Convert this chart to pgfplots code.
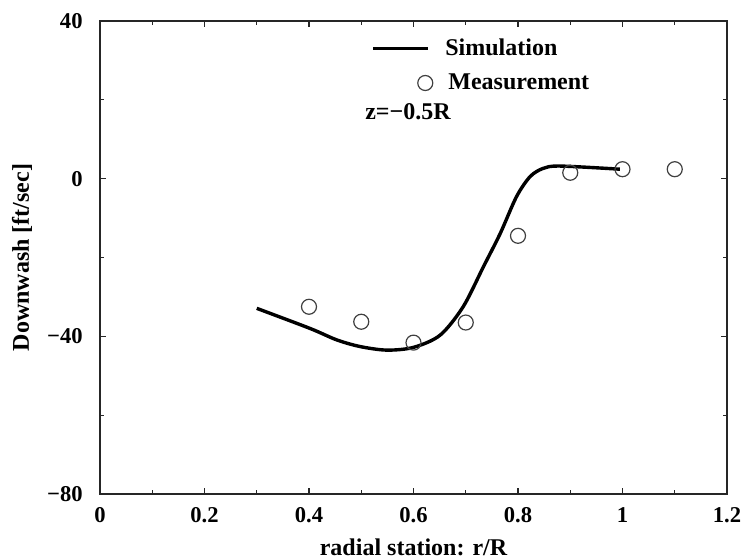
\documentclass[border=0pt]{standalone}
\usepackage{fontspec}
\setmainfont{Liberation Serif}
\usepackage{pgfplots}
\pgfplotsset{compat=1.18}
\begin{document}
\begin{tikzpicture}
\begin{axis}[
  scale only axis,
  width=313.5pt, height=236.5pt,
  xmin=0, xmax=1.2, ymin=-80, ymax=40,
  xtick={0,0.2,0.4,0.6,0.8,1,1.2},
  xticklabels={0,0.2,0.4,0.6,0.8,1,1.2},
  ytick={-80,-40,0,40},
  yticklabels={−80,−40,0,40},
  minor x tick num=1, minor y tick num=1,
  major tick length=3pt, minor tick length=2pt,
  tick align=inside,
  axis line style={black!85, line width=0.8pt},
  every tick/.style={black!85, line width=0.6pt},
  ticklabel style={font=\bfseries\fontsize{11.3}{13}\selectfont},
  yticklabel style={anchor=east, inner sep=0pt, xshift=-8.5pt},
  xticklabel style={anchor=north, inner sep=0pt, yshift=-6.5pt},
  xlabel={radial station: r/R},
  ylabel={Downwash [ft/sec]},
  label style={font=\bfseries\fontsize{12}{14}\selectfont},
  xlabel style={at={(axis description cs:0.5,-0.1121)}, anchor=center},
  ylabel style={at={(axis description cs:-0.1244,0.5)}, anchor=center},
  legend style={draw=none, fill=none, at={(axis cs:0.519,36.6)}, anchor=north west,
    font=\bfseries\fontsize{12}{14}\selectfont, row sep=3.6pt, inner sep=0pt,
    cells={anchor=west},
    /tikz/every odd column/.append style={column sep=4pt}},
]
\coordinate (ll) at (rel axis cs:0,0);
\coordinate (ur) at (rel axis cs:1,1);
\addplot[black, line width=1.7pt, smooth, tension=0.5,
  legend image code/.code={\draw[black, line width=1.7pt] (0pt,0pt) -- (27.5pt,0pt);}]
coordinates {
(0.300,-32.9) (0.402,-38.0) (0.453,-40.9) (0.498,-42.6) (0.549,-43.5) (0.600,-42.8)
(0.651,-39.7) (0.695,-32.5) (0.734,-22.3) (0.766,-13.9) (0.797,-4.6) (0.823,0.5)
(0.848,2.6) (0.880,3.2) (0.995,2.4)
};
\addlegendentry{Simulation}
\addplot[only marks, mark=o, mark size=3.75pt, black!75, mark options={line width=0.6pt},
  legend image code/.code={\draw[black!75, line width=0.6pt] (26pt,0pt) circle (3.75pt);}]
coordinates {
(0.4,-32.5) (0.5,-36.3) (0.6,-41.6) (0.7,-36.5) (0.8,-14.5) (0.9,1.5) (1.0,2.4) (1.1,2.4)
};
\addlegendentry{\hspace{1.5pt}Measurement}
\node[anchor=west, inner sep=0pt, font=\bfseries\fontsize{12}{14}\selectfont] at (axis cs:0.507,16.9) {z=−0.5R};
\end{axis}
\pgfresetboundingbox
\path ([shift={(-50pt,-32.5pt)}]ll) rectangle ([shift={(7.5pt,10.5pt)}]ur);
\end{tikzpicture}
\end{document}
